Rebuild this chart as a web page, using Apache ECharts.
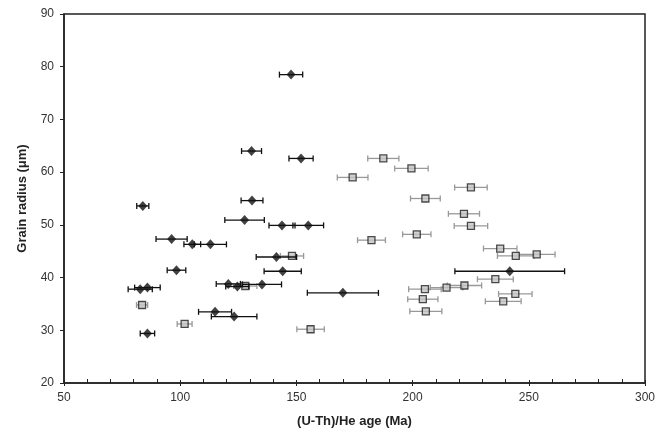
<!DOCTYPE html>
<html>
<head>
<meta charset="utf-8">
<script src="https://cdn.jsdelivr.net/npm/echarts@6/dist/echarts.min.js"></script>
<style>
    html, body { margin: 0; padding: 0; background: #fff; }
    #chart { width: 665px; height: 434px; }
</style>
</head>
<body>
<div id="chart"></div>
<script>
// black diamonds: age (Ma), radius (um), age error (+/- Ma)
var blackAge = [147.7, 130.7, 152.0, 130.9, 83.9, 127.7, 143.8, 155.1, 96.3, 105.2, 113.0, 141.4,
    98.4, 144.1, 241.8, 120.7, 124.6, 135.2, 85.9, 82.8, 170.0, 115.0, 123.2, 85.9];
var blackRadius = [78.5, 64.0, 62.6, 54.6, 53.6, 50.9, 49.9, 49.9, 47.3, 46.3, 46.3, 43.9,
    41.4, 41.2, 41.2, 38.8, 38.3, 38.7, 38.1, 37.8, 37.1, 33.5, 32.6, 29.4];
var blackErr = [5.0, 4.3, 5.2, 4.7, 2.6, 8.5, 5.6, 6.6, 6.7, 3.6, 6.9, 8.7,
    4.0, 8.0, 23.6, 5.2, 5.0, 8.4, 5.5, 5.2, 15.3, 7.1, 9.8, 3.1];

// grey squares
var greyAge = [187.4, 199.5, 174.2, 225.1, 205.5, 222.1, 225.1, 201.8, 182.3, 237.7, 253.4, 244.4,
    148.1, 235.6, 222.3, 214.6, 205.3, 244.2, 204.4, 239.0, 205.7, 83.6, 101.9, 156.1, 128.0];
var greyRadius = [62.6, 60.7, 59.0, 57.1, 55.0, 52.1, 49.8, 48.2, 47.1, 45.5, 44.4, 44.1,
    44.1, 39.7, 38.5, 38.1, 37.8, 36.9, 35.9, 35.5, 33.6, 34.8, 31.2, 30.2, 38.4];
var greyErr = [6.7, 7.2, 6.6, 7.0, 6.4, 6.7, 7.2, 6.1, 6.0, 7.2, 7.9, 7.9,
    5.0, 7.7, 7.4, 7.0, 7.0, 7.2, 6.5, 7.7, 6.9, 2.4, 3.2, 5.9, 5.0];

var xTicks = [50, 300, 50];   // min, max, step
var yTicks = [20, 90, 10];

function pack(a, b, c) {
    var out = [];
    for (var i = 0; i < a.length; i++) {
        out.push(c ? [a[i], b[i], c[i]] : [a[i], b[i]]);
    }
    return out;
}

function errorBars(color) {
    return function (params, api) {
        var x = api.value(0), y = api.value(1), e = api.value(2);
        var p1 = api.coord([x - e, y]);
        var p2 = api.coord([x + e, y]);
        var st = { stroke: color, lineWidth: 1.3 };
        var h = 3;
        return {
            type: 'group',
            children: [
                { type: 'line', shape: { x1: p1[0], y1: p1[1], x2: p2[0], y2: p2[1] }, style: st },
                { type: 'line', shape: { x1: p1[0], y1: p1[1] - h, x2: p1[0], y2: p1[1] + h }, style: st },
                { type: 'line', shape: { x1: p2[0], y1: p2[1] - h, x2: p2[0], y2: p2[1] + h }, style: st }
            ]
        };
    };
}

var font = '"Liberation Sans", Arial, sans-serif';

var option = {
    animation: false,
    backgroundColor: '#fff',
    grid: {
        left: 64, right: 20, top: 14, bottom: 51,
        show: true, borderColor: '#222', borderWidth: 1.5
    },
    xAxis: [{
        type: 'value',
        min: xTicks[0], max: xTicks[1], interval: xTicks[2],
        name: '(U-Th)/He age (Ma)',
        nameLocation: 'middle',
        nameGap: 32,
        nameTextStyle: { fontFamily: font, fontSize: 13, fontWeight: 'bold', color: '#222' },
        axisLine: { onZero: false, lineStyle: { color: '#222', width: 1.5 } },
        axisTick: { inside: false, length: 3, lineStyle: { color: '#222' } },
        axisLabel: { fontFamily: font, fontSize: 12, color: '#333', margin: 9 },
        splitLine: { show: false }
    }, {
        // inner ticks, incl. minor ones every 10 Ma
        type: 'value',
        position: 'bottom',
        min: xTicks[0], max: xTicks[1], interval: xTicks[2],
        axisLine: { show: false },
        axisTick: { inside: true, length: 3, lineStyle: { color: '#222' } },
        minorTick: { show: true, splitNumber: 5, length: 4, lineStyle: { color: '#222' } },
        axisLabel: { show: false },
        splitLine: { show: false }
    }],
    yAxis: {
        type: 'value',
        min: yTicks[0], max: yTicks[1], interval: yTicks[2],
        name: 'Grain radius (\u03bcm)',
        nameLocation: 'middle',
        nameGap: 35,
        nameTextStyle: { fontFamily: font, fontSize: 13, fontWeight: 'bold', color: '#222' },
        axisLine: { onZero: false, lineStyle: { color: '#222', width: 1.5 } },
        axisTick: { inside: false, length: 4, lineStyle: { color: '#222' } },
        axisLabel: { fontFamily: font, fontSize: 12, color: '#333', margin: 10 },
        splitLine: { show: false }
    },
    series: [
        {
            type: 'custom',
            renderItem: errorBars('#999'),
            data: pack(greyAge, greyRadius, greyErr),
            z: 2
        },
        {
            type: 'scatter',
            symbol: 'rect',
            symbolSize: 7,
            itemStyle: { color: '#c4c4c4', borderColor: '#222', borderWidth: 1.3 },
            data: pack(greyAge, greyRadius),
            z: 3
        },
        {
            type: 'custom',
            renderItem: errorBars('#111'),
            data: pack(blackAge, blackRadius, blackErr),
            z: 4
        },
        {
            type: 'scatter',
            symbol: 'diamond',
            symbolSize: [9, 10],
            itemStyle: { color: '#111' },
            data: pack(blackAge, blackRadius),
            z: 5
        }
    ]
};

try {
    var chart = echarts.init(document.getElementById('chart'));
    chart.setOption(option);
} catch (e) {
    console.warn(e);
}
</script>
</body>
</html>
